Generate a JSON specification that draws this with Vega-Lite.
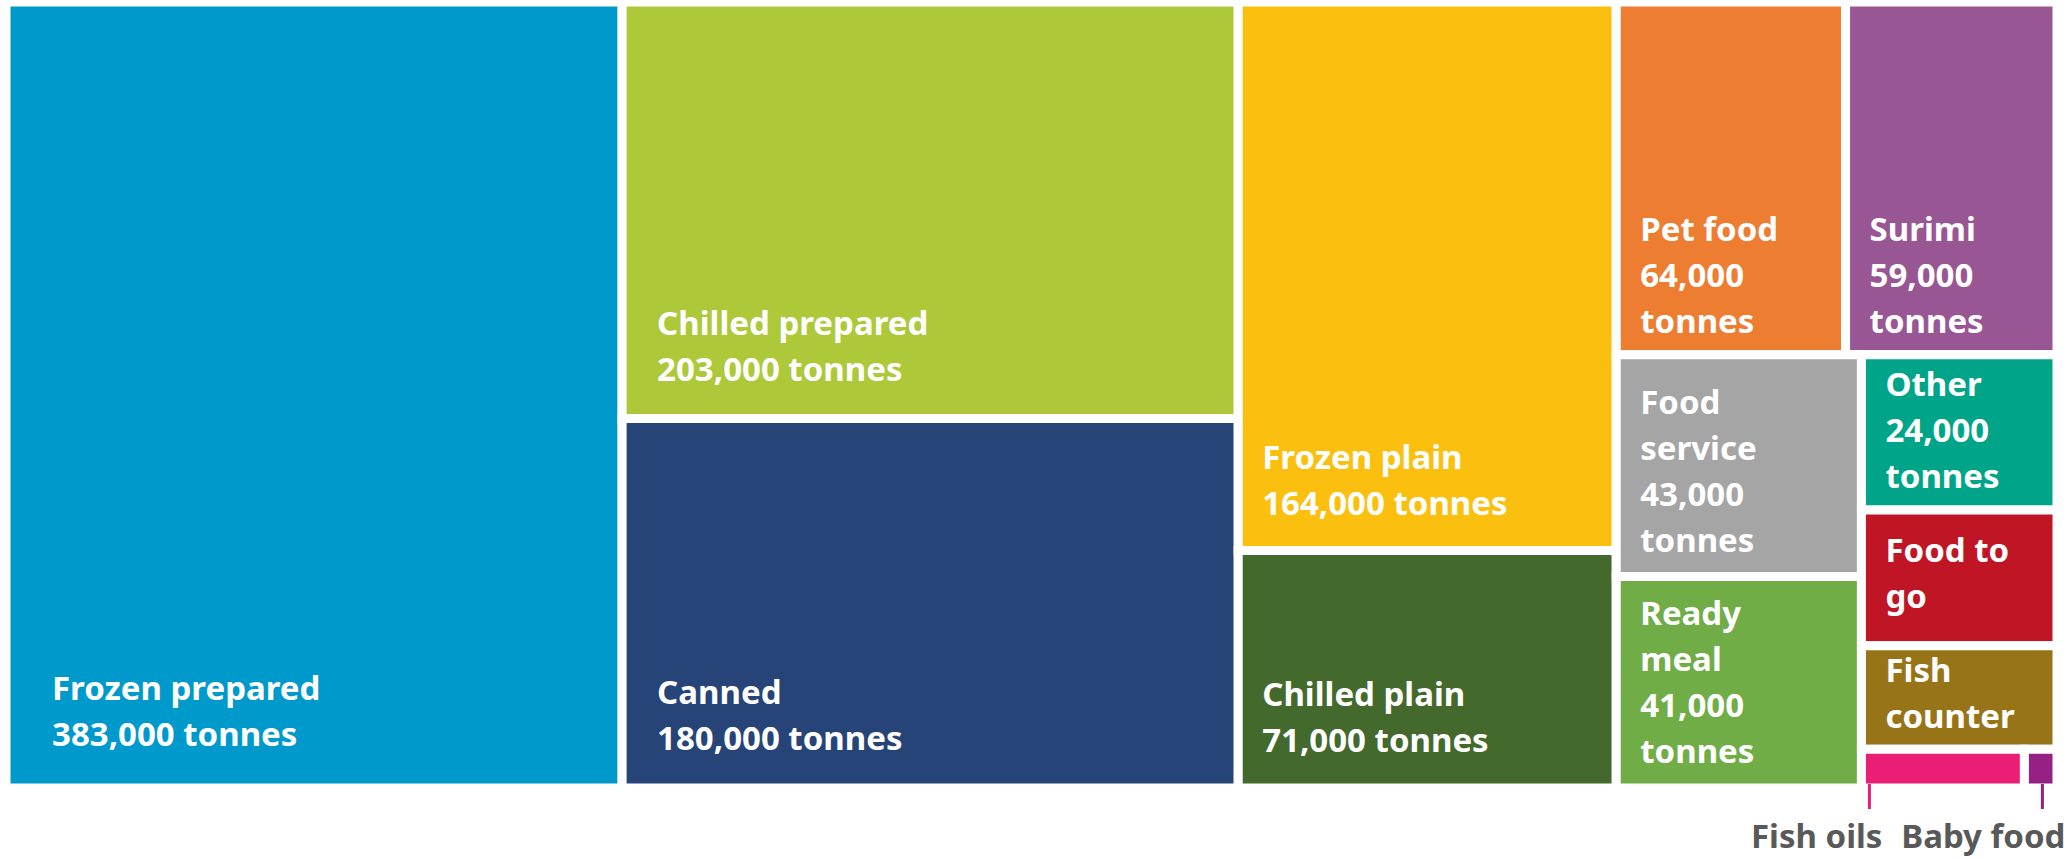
{
  "$schema": "https://vega.github.io/schema/vega-lite/v6.json",
  "width": 2051,
  "height": 786,
  "autosize": {"type": "none"},
  "padding": {"left": 6, "top": 2, "right": 15, "bottom": 71},
  "background": "white",
  "config": {"view": {"stroke": null}},
  "data": {
    "values": [
      {"name": "Frozen prepared", "tonnes": 383, "col": 1, "band": 1, "sub": 1, "cell": 1, "item": 1, "label": "Frozen prepared\n383,000 tonnes"},
      {"name": "Chilled prepared", "tonnes": 203, "col": 2, "band": 1, "sub": 1, "cell": 1, "item": 1, "label": "Chilled prepared\n203,000 tonnes"},
      {"name": "Canned", "tonnes": 180, "col": 2, "band": 2, "sub": 1, "cell": 1, "item": 1, "label": "Canned\n180,000 tonnes"},
      {"name": "Frozen plain", "tonnes": 164, "col": 3, "band": 1, "sub": 1, "cell": 1, "item": 1, "label": "Frozen plain\n164,000 tonnes"},
      {"name": "Chilled plain", "tonnes": 71, "col": 3, "band": 2, "sub": 1, "cell": 1, "item": 1, "label": "Chilled plain\n71,000 tonnes"},
      {"name": "Pet food", "tonnes": 64, "col": 4, "band": 1, "sub": 1, "cell": 1, "item": 1, "label": "Pet food\n64,000\ntonnes"},
      {"name": "Surimi", "tonnes": 59, "col": 4, "band": 1, "sub": 2, "cell": 1, "item": 1, "label": "Surimi\n59,000\ntonnes"},
      {"name": "Food service", "tonnes": 43, "col": 4, "band": 2, "sub": 1, "cell": 1, "item": 1, "label": "Food\nservice\n43,000\ntonnes"},
      {"name": "Ready meal", "tonnes": 41, "col": 4, "band": 2, "sub": 1, "cell": 2, "item": 1, "label": "Ready\nmeal\n41,000\ntonnes"},
      {"name": "Other", "tonnes": 24, "col": 4, "band": 2, "sub": 2, "cell": 1, "item": 1, "label": "Other\n24,000\ntonnes"},
      {"name": "Food to go", "tonnes": 21, "col": 4, "band": 2, "sub": 2, "cell": 2, "item": 1, "label": "Food to\ngo"},
      {"name": "Fish counter", "tonnes": 16, "col": 4, "band": 2, "sub": 2, "cell": 3, "item": 1, "label": "Fish\ncounter"},
      {"name": "Fish oils", "tonnes": 5, "col": 4, "band": 2, "sub": 2, "cell": 4, "item": 1, "label": ""},
      {"name": "Baby food", "tonnes": 1, "col": 4, "band": 2, "sub": 2, "cell": 4, "item": 2, "label": ""}
    ]
  },
  "transform": [
    {"joinaggregate": [{"op": "sum", "field": "tonnes", "as": "T"}]},
    {"joinaggregate": [{"op": "sum", "field": "tonnes", "as": "colT"}], "groupby": ["col"]},
    {"window": [{"op": "sum", "field": "tonnes", "as": "colCum"}], "sort": [{"field": "col"}], "frame": [null, 0], "ignorePeers": false},
    {"calculate": "(datum.colCum - datum.colT) / datum.T", "as": "x0"},
    {"calculate": "datum.colCum / datum.T", "as": "x1"},
    {"joinaggregate": [{"op": "sum", "field": "tonnes", "as": "bandT"}], "groupby": ["col", "band"]},
    {"window": [{"op": "sum", "field": "tonnes", "as": "bandCum"}], "groupby": ["col"], "sort": [{"field": "band"}], "frame": [null, 0], "ignorePeers": false},
    {"calculate": "(datum.bandCum - datum.bandT) / datum.colT", "as": "y0"},
    {"calculate": "datum.bandCum / datum.colT", "as": "y1"},
    {"joinaggregate": [{"op": "sum", "field": "tonnes", "as": "subT"}], "groupby": ["col", "band", "sub"]},
    {"window": [{"op": "sum", "field": "tonnes", "as": "subCum"}], "groupby": ["col", "band"], "sort": [{"field": "sub"}], "frame": [null, 0], "ignorePeers": false},
    {"calculate": "datum.x0 + (datum.x1 - datum.x0) * (datum.subCum - datum.subT) / datum.bandT", "as": "sx0"},
    {"calculate": "datum.x0 + (datum.x1 - datum.x0) * datum.subCum / datum.bandT", "as": "sx1"},
    {"joinaggregate": [{"op": "sum", "field": "tonnes", "as": "cellT"}], "groupby": ["col", "band", "sub", "cell"]},
    {"window": [{"op": "sum", "field": "tonnes", "as": "cellCum"}], "groupby": ["col", "band", "sub"], "sort": [{"field": "cell"}], "frame": [null, 0], "ignorePeers": false},
    {"calculate": "datum.y0 + (datum.y1 - datum.y0) * (datum.cellCum - datum.cellT) / datum.subT", "as": "cy0"},
    {"calculate": "datum.y0 + (datum.y1 - datum.y0) * datum.cellCum / datum.subT", "as": "cy1"},
    {"window": [{"op": "sum", "field": "tonnes", "as": "itemCum"}], "groupby": ["col", "band", "sub", "cell"], "sort": [{"field": "item"}], "frame": [null, 0], "ignorePeers": false},
    {"calculate": "datum.sx0 + (datum.sx1 - datum.sx0) * (datum.itemCum - datum.tonnes) / datum.cellT", "as": "ix0"},
    {"calculate": "datum.sx0 + (datum.sx1 - datum.sx0) * datum.itemCum / datum.cellT", "as": "ix1"}
  ],
  "layer": [
    {
      "mark": {"type": "rect", "stroke": "white", "strokeWidth": 9},
      "encoding": {
        "x": {"field": "ix0", "type": "quantitative", "scale": {"domain": [0, 1], "nice": false, "zero": false}, "axis": null},
        "x2": {"field": "ix1"},
        "y": {"field": "cy0", "type": "quantitative", "scale": {"domain": [0, 1], "nice": false, "zero": false, "reverse": true}, "axis": null},
        "y2": {"field": "cy1"},
        "color": {
          "field": "name", "type": "nominal", "legend": null,
          "scale": {
            "domain": ["Frozen prepared", "Chilled prepared", "Canned", "Frozen plain", "Chilled plain", "Pet food", "Surimi", "Food service", "Ready meal", "Other", "Food to go", "Fish counter", "Fish oils", "Baby food"],
            "range": ["#0099CB", "#ADC93A", "#264478", "#FBBF0F", "#44692D", "#ED7D31", "#985694", "#A5A5A5", "#70AD47", "#00A589", "#C01524", "#987418", "#E91E74", "#962185"]
          }
        }
      }
    },
    {
      "transform": [{"filter": "datum.tonnes >= 300"}],
      "mark": {"type": "text", "align": "left", "baseline": "alphabetic", "dx": 46, "dy": -88, "font": "Noto Sans", "fontSize": 33, "fontWeight": "bold", "fill": "white", "lineHeight": 46, "lineBreak": "\n"},
      "encoding": {
        "x": {"field": "ix0", "type": "quantitative"},
        "y": {"field": "cy1", "type": "quantitative"},
        "text": {"field": "label"}
      }
    },
    {
      "transform": [{"filter": "datum.tonnes >= 170 && datum.tonnes < 300"}],
      "mark": {"type": "text", "align": "left", "baseline": "alphabetic", "dx": 35, "dy": -84, "font": "Noto Sans", "fontSize": 33, "fontWeight": "bold", "fill": "white", "lineHeight": 46, "lineBreak": "\n"},
      "encoding": {
        "x": {"field": "ix0", "type": "quantitative"},
        "y": {"field": "cy1", "type": "quantitative"},
        "text": {"field": "label"}
      }
    },
    {
      "transform": [{"filter": "datum.tonnes >= 70 && datum.tonnes < 170"}],
      "mark": {"type": "text", "align": "left", "baseline": "alphabetic", "dx": 24, "dy": -82, "font": "Noto Sans", "fontSize": 33, "fontWeight": "bold", "fill": "white", "lineHeight": 46, "lineBreak": "\n"},
      "encoding": {
        "x": {"field": "ix0", "type": "quantitative"},
        "y": {"field": "cy1", "type": "quantitative"},
        "text": {"field": "label"}
      }
    },
    {
      "transform": [{"filter": "datum.tonnes < 70 && split(datum.label, '\\n').length == 3"}],
      "mark": {"type": "text", "align": "left", "baseline": "alphabetic", "dx": 24, "dy": -114, "font": "Noto Sans", "fontSize": 33, "fontWeight": "bold", "fill": "white", "lineHeight": 46, "lineBreak": "\n"},
      "encoding": {
        "x": {"field": "ix0", "type": "quantitative"},
        "y": {"field": "cy1", "type": "quantitative"},
        "text": {"field": "label"}
      }
    },
    {
      "transform": [{"filter": "datum.tonnes < 70 && split(datum.label, '\\n').length == 4"}],
      "mark": {"type": "text", "align": "left", "baseline": "alphabetic", "dx": 24, "dy": -163, "font": "Noto Sans", "fontSize": 33, "fontWeight": "bold", "fill": "white", "lineHeight": 46, "lineBreak": "\n"},
      "encoding": {
        "x": {"field": "ix0", "type": "quantitative"},
        "y": {"field": "cy1", "type": "quantitative"},
        "text": {"field": "label"}
      }
    },
    {
      "transform": [{"filter": "datum.tonnes >= 20 && datum.tonnes < 70 && split(datum.label, '\\n').length == 2"}],
      "mark": {"type": "text", "align": "left", "baseline": "alphabetic", "dx": 24, "dy": -84, "font": "Noto Sans", "fontSize": 33, "fontWeight": "bold", "fill": "white", "lineHeight": 46, "lineBreak": "\n"},
      "encoding": {
        "x": {"field": "ix0", "type": "quantitative"},
        "y": {"field": "cy1", "type": "quantitative"},
        "text": {"field": "label"}
      }
    },
    {
      "transform": [{"filter": "datum.tonnes < 20 && datum.label != ''"}],
      "mark": {"type": "text", "align": "left", "baseline": "alphabetic", "dx": 24, "dy": -67, "font": "Noto Sans", "fontSize": 33, "fontWeight": "bold", "fill": "white", "lineHeight": 46, "lineBreak": "\n"},
      "encoding": {
        "x": {"field": "ix0", "type": "quantitative"},
        "y": {"field": "cy1", "type": "quantitative"},
        "text": {"field": "label"}
      }
    },
    {
      "transform": [{"filter": {"field": "name", "equal": "Fish oils"}}],
      "mark": {"type": "rule", "xOffset": 8, "yOffset": -4, "y2Offset": 21, "strokeWidth": 3},
      "encoding": {
        "x": {"field": "ix0", "type": "quantitative"},
        "y": {"field": "cy1", "type": "quantitative"},
        "y2": {"field": "cy1"},
        "color": {"field": "name", "type": "nominal", "legend": null}
      }
    },
    {
      "transform": [{"filter": {"field": "name", "equal": "Baby food"}}],
      "mark": {"type": "rule", "xOffset": 18, "yOffset": -4, "y2Offset": 21, "strokeWidth": 3},
      "encoding": {
        "x": {"field": "ix0", "type": "quantitative"},
        "y": {"field": "cy1", "type": "quantitative"},
        "y2": {"field": "cy1"},
        "color": {"field": "name", "type": "nominal", "legend": null}
      }
    },
    {
      "transform": [{"filter": {"field": "name", "equal": "Fish oils"}}],
      "mark": {"type": "text", "align": "right", "baseline": "alphabetic", "dx": 21, "dy": 60, "font": "Noto Sans", "fontSize": 33, "fontWeight": "bold", "fill": "#595959"},
      "encoding": {
        "x": {"field": "ix0", "type": "quantitative"},
        "y": {"field": "cy1", "type": "quantitative"},
        "text": {"field": "name"}
      }
    },
    {
      "transform": [{"filter": {"field": "name", "equal": "Baby food"}}],
      "mark": {"type": "text", "align": "right", "baseline": "alphabetic", "dx": 41, "dy": 60, "font": "Noto Sans", "fontSize": 33, "fontWeight": "bold", "fill": "#595959"},
      "encoding": {
        "x": {"field": "ix0", "type": "quantitative"},
        "y": {"field": "cy1", "type": "quantitative"},
        "text": {"field": "name"}
      }
    }
  ]
}
